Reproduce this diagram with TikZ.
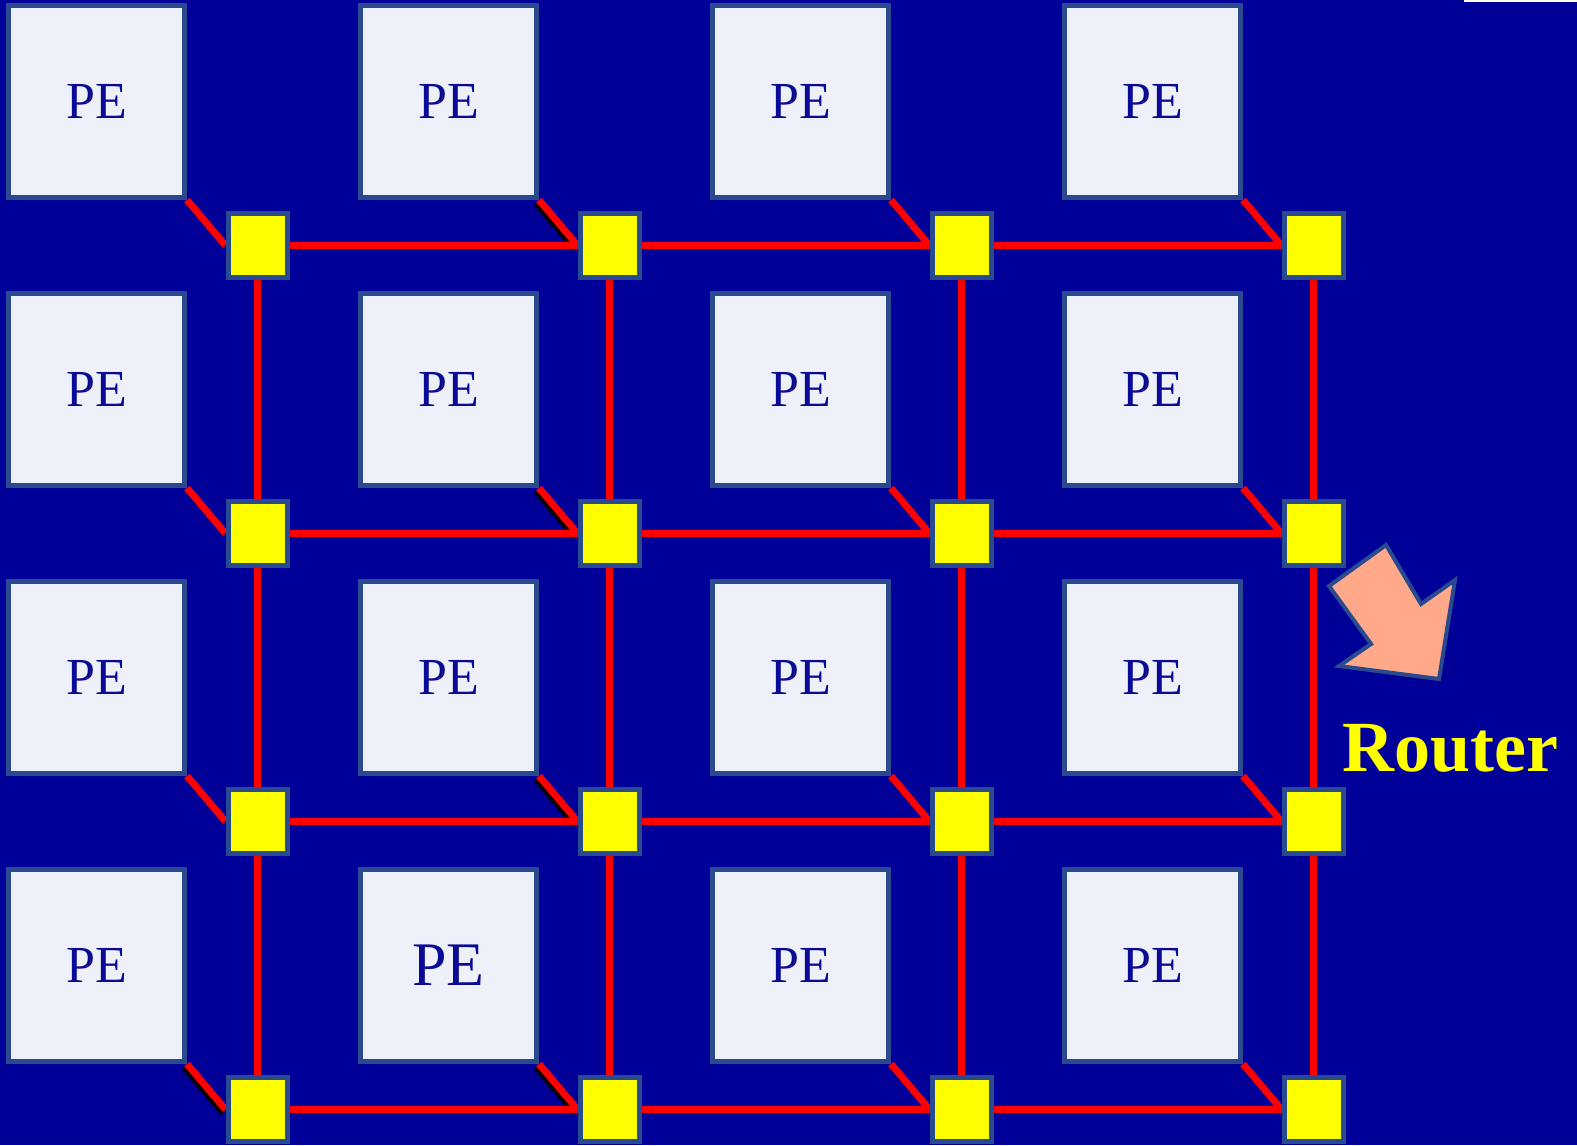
\documentclass[tikz,border=0pt]{standalone}
\usepackage{fontspec}
\setmainfont{Liberation Serif}
\definecolor{bgblue}{RGB}{0,0,153}
\definecolor{pefill}{RGB}{238,241,249}
\definecolor{bord}{RGB}{42,74,143}
\definecolor{petext}{RGB}{10,10,150}
\definecolor{arrowfill}{RGB}{255,168,138}
\definecolor{routeryellow}{RGB}{255,255,0}
\pgfdeclarelayer{bglayer}
\pgfdeclarelayer{linklayer}
\pgfsetlayers{bglayer,linklayer,main}
\tikzset{
  pebox/.style={draw=bord, line width=2.5pt, fill=pefill, minimum width=88pt, minimum height=96pt, inner sep=0pt, text=petext},
  routerbox/.style={draw=bord, line width=2.5pt, fill=routeryellow, minimum width=29.5pt, minimum height=32pt, inner sep=0pt},
  link/.style={red, line width=3.5pt},
  shadowlink/.style={black, line width=3.5pt},
}
\begin{document}
\begin{tikzpicture}[x=0.5pt,y=-0.5pt]
\begin{pgfonlayer}{bglayer}
\fill[bgblue] (0,0) rectangle (1577,1145);
\fill[white] (1464,0) rectangle (1577,2.4);
\end{pgfonlayer}
\useasboundingbox (0,0) rectangle (1577,1145);
% PE boxes and routers
\foreach \i in {0,1,2,3}{
  \foreach \j in {0,1,2,3}{
    \pgfmathsetmacro{\px}{96.5+352*\i}
    \pgfmathsetmacro{\py}{101.5+288*\j}
    \pgfmathsetmacro{\rx}{257.5+352*\i}
    \pgfmathsetmacro{\ry}{245.5+288*\j}
    \pgfmathtruncatemacro{\fs}{(\i==1 && \j==3) ? 31 : 26}
    \node[pebox, font=\fontsize{\fs}{\fs}\selectfont] (pe\i\j) at (\px,\py) {PE};
    \node[routerbox] (r\i\j) at (\rx,\ry) {};
  }
}
\begin{pgfonlayer}{linklayer}
% shadows
\foreach \i/\j in {1/0,1/1,1/2,1/3,0/3}{
  \draw[shadowlink] ([shift={(-2.5,3)}]pe\i\j.south east) -- ([shift={(-2.5,3)}]r\i\j.west);
}
% PE to router diagonals
\foreach \i in {0,1,2,3}{
  \foreach \j in {0,1,2,3}{
    \draw[link] (pe\i\j.south east) -- (r\i\j.west);
  }
}
% horizontal links
\foreach \i/\k in {0/1,1/2,2/3}{
  \foreach \j in {0,1,2,3}{
    \draw[link] (r\i\j.center) -- (r\k\j.center);
  }
}
% vertical links
\foreach \i in {0,1,2,3}{
  \foreach \j/\k in {0/1,1/2,2/3}{
    \draw[link] (r\i\j.center) -- (r\i\k.center);
  }
}
\end{pgfonlayer}
% arrow
\draw[draw=bord, line width=2pt, fill=arrowfill, line join=miter]
  (1386,545) -- (1329,586) -- (1371,644) -- (1339,666) -- (1439,679) -- (1455,580) -- (1421,604) -- cycle;
\node[anchor=base west, inner sep=0pt, text=routeryellow, font=\fontsize{36}{36}\selectfont\bfseries] (routerlabel) at (1342,771) {Router};
\end{tikzpicture}
\end{document}
